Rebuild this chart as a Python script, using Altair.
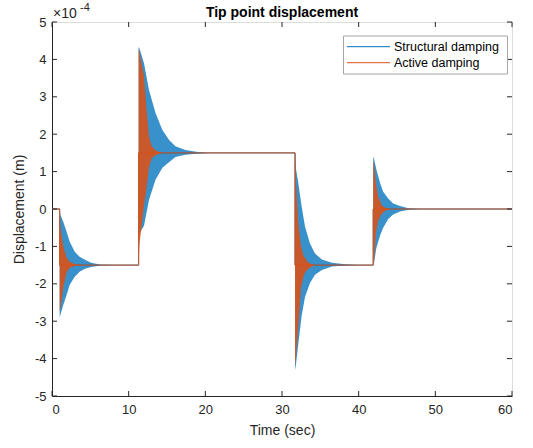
import altair as alt
import pandas as pd

FONT = "Liberation Sans"
series = ["Structural damping", "Active damping"]
colors = ["#0072BD", "#D95319"]
x_ticks = [0, 10, 20, 30, 40, 50, 60]
y_ticks = [-5, -4, -3, -2, -1, 0, 1, 2, 3, 4, 5]

# step instants (sec) and settled levels (x1e-4 m)
step_times = [1.0, 11.3, 31.7, 41.9]
levels = [0.0, -1.5, 1.5, -1.5, 0.0]
t_end = 60.0

# ---- Structural damping envelope (offset from step, upper, lower) ----
blue_off_1 = [0, 0.1, 0.47, 0.9, 1.3, 1.96, 2.6, 3.3, 4.1, 5.4, 7.0]
blue_up_1 = [0, -0.16, -0.34, -0.61, -0.87, -1.14, -1.28, -1.36, -1.44, -1.49, -1.5]
blue_lo_1 = [-2.9, -2.83, -2.57, -2.3, -2.03, -1.81, -1.68, -1.6, -1.55, -1.51, -1.5]

blue_off_2 = [0, 0.1, 0.7, 1.35, 2.2, 3.1, 4.0, 4.8, 6.1, 7.5, 9.0]
blue_up_2 = [4.33, 4.3, 3.9, 3.18, 2.57, 2.11, 1.84, 1.68, 1.58, 1.53, 1.5]
blue_lo_2 = [-1.5, -0.65, -0.45, 0.24, 0.78, 1.1, 1.26, 1.39, 1.45, 1.48, 1.5]

blue_off_3 = [0, 0.1, 0.43, 0.87, 1.3, 1.95, 2.6, 3.5, 4.8, 6.5, 8.0]
blue_up_3 = [1.5, 1.1, 0.69, 0.06, -0.47, -0.92, -1.19, -1.35, -1.44, -1.48, -1.5]
blue_lo_3 = [-4.3, -4.2, -3.6, -2.85, -2.35, -1.98, -1.76, -1.63, -1.54, -1.51, -1.5]

blue_off_4 = [0, 0.1, 0.4, 0.9, 1.3, 1.95, 2.6, 3.5, 4.6, 6.0]
blue_up_4 = [1.4, 1.35, 1.06, 0.69, 0.46, 0.28, 0.15, 0.08, 0.02, 0]
blue_lo_4 = [-1.5, -1.45, -1.05, -0.7, -0.5, -0.27, -0.15, -0.07, -0.02, 0]

# ---- Active damping envelope ----
red_off_1 = [0, 0.1, 0.47, 0.9, 1.3, 2.0, 3.0]
red_up_1 = [0, -0.5, -1.0, -1.3, -1.41, -1.48, -1.5]
red_lo_1 = [-2.75, -2.65, -2.1, -1.7, -1.57, -1.52, -1.5]

red_off_2 = [0, 0.1, 0.7, 1.0, 1.35, 1.7, 2.2, 3.0]
red_up_2 = [4.3, 4.2, 3.54, 2.73, 1.93, 1.68, 1.57, 1.5]
red_lo_2 = [-1.5, -0.95, 0.1, 0.5, 1.12, 1.35, 1.44, 1.5]

red_off_3 = [0, 0.1, 0.43, 0.78, 1.1, 1.3, 1.73, 2.5]
red_up_3 = [1.5, 0.78, -0.38, -1.0, -1.25, -1.31, -1.44, -1.5]
red_lo_3 = [-4.2, -4.0, -3.1, -2.1, -1.81, -1.7, -1.6, -1.5]

red_off_4 = [0, 0.1, 0.35, 0.65, 1.1, 1.6, 2.2]
red_up_4 = [1.27, 1.2, 0.69, 0.33, 0.1, 0.03, 0]
red_lo_4 = [-1.5, -1.4, -0.65, -0.3, -0.13, -0.05, 0]

env = {
    series[0]: [(blue_off_1, blue_up_1, blue_lo_1), (blue_off_2, blue_up_2, blue_lo_2),
                (blue_off_3, blue_up_3, blue_lo_3), (blue_off_4, blue_up_4, blue_lo_4)],
    series[1]: [(red_off_1, red_up_1, red_lo_1), (red_off_2, red_up_2, red_lo_2),
                (red_off_3, red_up_3, red_lo_3), (red_off_4, red_up_4, red_lo_4)],
}

env_rows = []
for s in series:
    for k, (off, up, lo) in enumerate(env[s]):
        for o, u, l in zip(off, up, lo):
            env_rows.append({"series": s, "seg": k, "t": step_times[k] + o, "up": u, "lo": l})
env_df = pd.DataFrame(env_rows)

path_rows = []
for s in series:
    i = 0
    path_rows.append({"series": s, "i": i, "t": 0.0, "v": levels[0]})
    for k, ts in enumerate(step_times):
        i += 1
        path_rows.append({"series": s, "i": i, "t": ts, "v": levels[k]})
        i += 1
        path_rows.append({"series": s, "i": i, "t": ts, "v": levels[k + 1]})
    i += 1
    path_rows.append({"series": s, "i": i, "t": t_end, "v": levels[-1]})
path_df = pd.DataFrame(path_rows)

W, H = 460, 374
xs = alt.Scale(domain=[0, 60], nice=False)
ys = alt.Scale(domain=[-5, 5], nice=False)
cs = alt.Scale(domain=series, range=colors)

xaxis = alt.Axis(values=x_ticks, title="Time (sec)", tickSize=0, labelPadding=7,
                 titlePadding=7, grid=False, labelFontSize=13, titleFontSize=14,
                 labelColor="#262626", titleColor="#262626", domainColor="#262626",
                 labelFont=FONT, titleFont=FONT, titleFontWeight="normal",
                 labelOverlap=False)
yaxis = alt.Axis(values=y_ticks, title="Displacement (m)", tickSize=0, labelPadding=6,
                 titlePadding=8, grid=False, labelFontSize=13, titleFontSize=14,
                 labelColor="#262626", titleColor="#262626", domainColor="#262626",
                 labelFont=FONT, titleFont=FONT, titleFontWeight="normal",
                 labelExpr="datum.value + ''", labelOverlap=False)

layers = []
for idx, s in enumerate(series):
    sub_env = env_df[env_df.series == s]
    sub_path = path_df[path_df.series == s]
    area = alt.Chart(sub_env).mark_area(
        opacity=0.78 if idx == 0 else 0.9, interpolate="linear"
    ).encode(
        x=alt.X("t:Q", scale=xs, axis=xaxis),
        y=alt.Y("lo:Q", scale=ys, axis=yaxis),
        y2="up:Q",
        detail="seg:N",
        color=alt.Color("series:N", scale=cs, legend=None),
    )
    line = alt.Chart(sub_path).mark_line(strokeWidth=1).encode(
        x=alt.X("t:Q", scale=xs, axis=xaxis),
        y=alt.Y("v:Q", scale=ys, axis=yaxis),
        order="i:Q",
        color=alt.Color("series:N", scale=cs, legend=None),
    )
    layers += [area, line]

xt = pd.DataFrame({"x": x_ticks})
yt = pd.DataFrame({"y": y_ticks})
tick_color = "#262626"
bt = alt.Chart(xt).mark_rule(color=tick_color).encode(x=alt.X("x:Q", scale=xs, axis=xaxis), y=alt.value(H), y2=alt.value(H - 5))
tt = alt.Chart(xt).mark_rule(color=tick_color).encode(x=alt.X("x:Q", scale=xs, axis=xaxis), y=alt.value(0), y2=alt.value(5))
lt = alt.Chart(yt).mark_rule(color=tick_color).encode(y=alt.Y("y:Q", scale=ys, axis=yaxis), x=alt.value(0), x2=alt.value(5))
rt = alt.Chart(yt).mark_rule(color=tick_color).encode(y=alt.Y("y:Q", scale=ys, axis=yaxis), x=alt.value(W - 5), x2=alt.value(W))

# legend box (MATLAB style)
leg_rows = [24.7, 40.7]
box = alt.Chart(pd.DataFrame({"b": [0]})).mark_rect(
    fill="white", stroke="#a6a6a6", strokeWidth=1
).encode(x=alt.value(291.5), x2=alt.value(455.5), y=alt.value(14), y2=alt.value(52))
leg_layers = [box]
for s, ry in zip(series, leg_rows):
    d = pd.DataFrame({"series": [s]})
    leg_layers.append(alt.Chart(d).mark_rule(strokeWidth=1).encode(
        x=alt.value(295), x2=alt.value(338), y=alt.value(ry),
        color=alt.Color("series:N", scale=cs, legend=None)))
    leg_layers.append(alt.Chart(d).mark_text(
        font=FONT, fontSize=12.5, align="left", baseline="middle", color="#000000"
    ).encode(x=alt.value(342), y=alt.value(ry), text="series:N"))

exp_base = alt.Chart(pd.DataFrame({"s": ["\u00d710"]})).mark_text(
    font=FONT, fontSize=14, align="left", baseline="alphabetic", color="#262626"
).encode(text="s:N", x=alt.value(1), y=alt.value(-4))
exp_pow = alt.Chart(pd.DataFrame({"s": ["-4"]})).mark_text(
    font=FONT, fontSize=11, align="left", baseline="alphabetic", color="#262626"
).encode(text="s:N", x=alt.value(28), y=alt.value(-11))
title = alt.Chart(pd.DataFrame({"s": ["Tip point displacement"]})).mark_text(
    font=FONT, fontSize=14, fontWeight="bold", align="center", baseline="alphabetic", color="#000000"
).encode(text="s:N", x=alt.value(W / 2), y=alt.value(-5))

chart = alt.layer(*layers, bt, tt, lt, rt, *leg_layers, exp_base, exp_pow, title).properties(
    width=W, height=H,
    autosize=alt.AutoSizeParams(type="none"),
    padding={"left": 52, "top": 22, "right": 21, "bottom": 52},
).configure_view(stroke="#262626", strokeWidth=1).configure(background="white")

chart.save("out.html", embed_options={"renderer": "svg", "actions": False})
